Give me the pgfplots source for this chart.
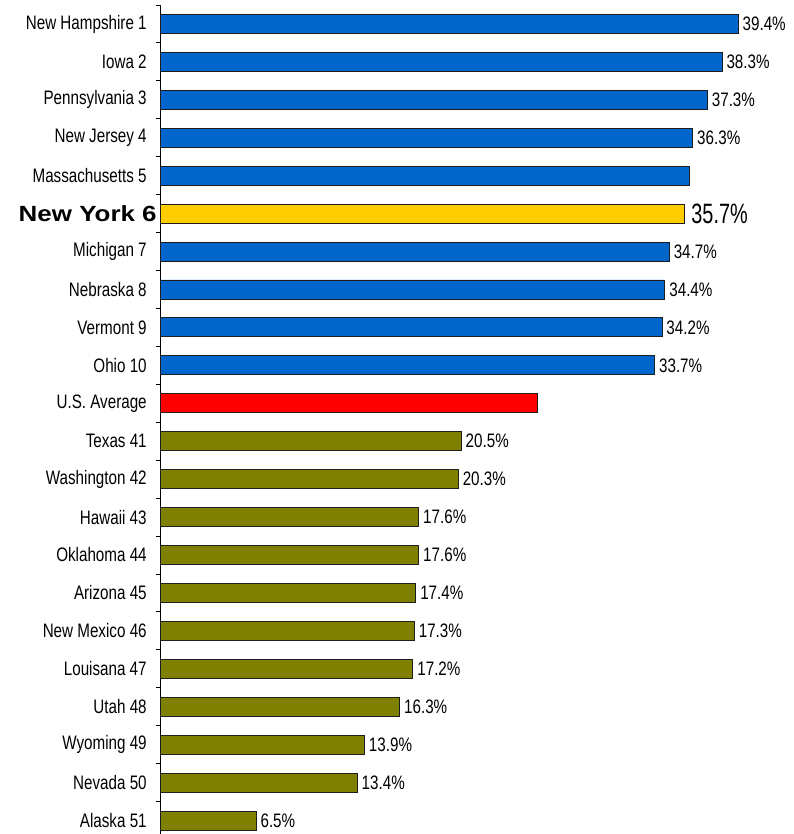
\documentclass[border=0pt]{standalone}
\usepackage{fontspec}
\setmainfont{Liberation Sans}[FakeStretch=0.78]
\newfontfamily\nyfont{Liberation Sans}[FakeStretch=1.18]
\newfontfamily\bigfont{Liberation Sans}[FakeStretch=0.71]
\usepackage{pgfplots}
\pgfplotsset{compat=1.18}
\definecolor{barblue}{RGB}{0,102,204}
\definecolor{baryellow}{RGB}{255,204,0}
\definecolor{barred}{RGB}{255,0,0}
\definecolor{barolive}{RGB}{128,128,0}
\definecolor{edge}{RGB}{30,30,30}
\begin{document}
\begin{tikzpicture}
\begin{axis}[
 x=14.66pt, y=37.95pt,
 xmin=0, xmax=43, ymin=-0.356, ymax=21.5,
 axis x line=none, axis y line=left,
 y axis line style={-, black, line width=0.9pt},
 ytick={0,...,21},
 yticklabels={Alaska 51, Nevada 50, Wyoming 49, Utah 48, Louisana 47, New Mexico 46, Arizona 45, Oklahoma 44, Hawaii 43, Washington 42, Texas 41, U.S. Average, Ohio 10, Vermont 9, Nebraska 8, Michigan 7, {\nyfont\bfseries\fontsize{22}{24}\selectfont New York 6\kern-10pt}, Massachusetts 5, New Jersey 4, Pennsylvania 3, Iowa 2, New Hampshire 1},
 major tick length=0pt,
 minor ytick={0.5,1.5,...,21.5},
 minor tick length=5pt,
 tick align=outside,
 minor tick style={black, line width=0.9pt},
 yticklabel style={font=\fontsize{19.5}{21}\selectfont, inner sep=0pt, xshift=-14pt},
 clip=false,
 /pgf/number format/assume math mode=true,
 every node near coord/.append style={font=\fontsize{19.5}{21}\selectfont, inner sep=0pt, xshift=4pt, anchor=west, text=black},
]
% blue, labelled
\addplot[xbar, bar width=19pt, bar shift=0pt, fill=barblue, draw=edge, line width=0.9pt,
  point meta=x, nodes near coords={\pgfmathprintnumber[fixed,fixed zerofill,precision=1]{\pgfplotspointmeta}\%}]
  coordinates {(39.4,21) (38.3,20) (37.3,19) (36.3,18) (34.7,15) (34.4,14) (34.2,13) (33.7,12)};
% blue, Massachusetts (no label)
\addplot[xbar, bar width=19pt, bar shift=0pt, fill=barblue, draw=edge, line width=0.9pt]
  coordinates {(36.1,17)};
% New York
\addplot[xbar, bar width=19pt, bar shift=0pt, fill=baryellow, draw=edge, line width=0.9pt,
  point meta=x, nodes near coords={\bigfont\fontsize{28}{30}\selectfont\pgfmathprintnumber[fixed,fixed zerofill,precision=1]{\pgfplotspointmeta}\%},
  every node near coord/.append style={xshift=3pt}]
  coordinates {(35.7,16)};
% U.S. Average (no label)
\addplot[xbar, bar width=19pt, bar shift=0pt, fill=barred, draw=edge, line width=0.9pt]
  coordinates {(25.7,11)};
% olive
\addplot[xbar, bar width=19pt, bar shift=0pt, fill=barolive, draw=edge, line width=0.9pt,
  point meta=x, nodes near coords={\pgfmathprintnumber[fixed,fixed zerofill,precision=1]{\pgfplotspointmeta}\%}]
  coordinates {(20.5,10) (20.3,9) (17.6,8) (17.6,7) (17.4,6) (17.3,5) (17.2,4) (16.3,3) (13.9,2) (13.4,1) (6.5,0)};
\coordinate (bl) at (axis cs:-10.98,-0.356);
\coordinate (tr) at (axis cs:43.18,21.632);
\end{axis}
\pgfresetboundingbox
\path (bl) rectangle (tr);
\end{tikzpicture}
\end{document}
